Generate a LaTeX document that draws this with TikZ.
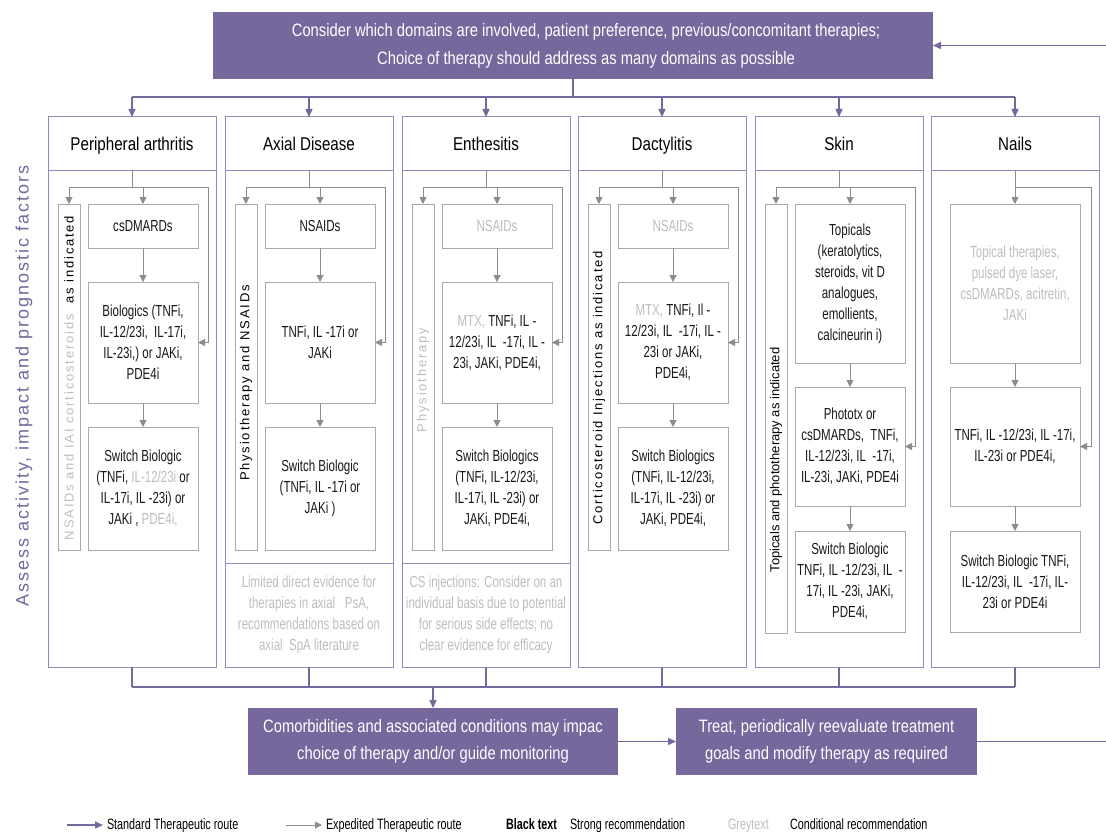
\documentclass[tikz,border=0pt]{standalone}
\usepackage{fontspec}
\setmainfont[FakeStretch=0.72]{Liberation Sans}
\newfontfamily\hfont[FakeStretch=0.82]{Liberation Sans}
\newfontfamily\spA[LetterSpace=14]{Liberation Sans}
\newfontfamily\spB[LetterSpace=11]{Liberation Sans}
\newfontfamily\spC{Liberation Sans}
\usetikzlibrary{arrows.meta}
\definecolor{purp}{RGB}{118,103,157}
\definecolor{colline}{RGB}{150,136,190}
\definecolor{gline}{RGB}{170,170,170}
\definecolor{gtext}{RGB}{190,190,190}
\definecolor{garrc}{RGB}{140,140,140}
\newcommand\gr[1]{{\color{gtext}#1}}
\newcommand\colconn[5]{%
  \coordinate (#1T) at (#2,187);
  \coordinate (#1SL) at (#3,187);
  \coordinate (#1BX) at (#4,187);
  \coordinate (#1R) at (#5,187);
  \draw[gconn] (#1h.south) -- (#1T);
  \draw[gconn] (#1SL) -- (#1R);
  \draw[garr] (#1SL) -- (#1s.north);
  \draw[garr] (#1BX) -- (#1b1.north);
  \draw[garr] (#1R) |- (#1b2.east);
  \draw[garr] (#1b1.south) -- (#1b2.north);
  \draw[garr] (#1b2.south) -- (#1b3.north);
}
\tikzset{
 every node/.style={inner sep=0pt, outer sep=0pt},
 colhead/.style={draw=colline, line width=1pt, minimum width=168pt, minimum height=54pt, text height=15.5pt, text depth=2pt, font=\hfont\fontsize{18.5}{22}\selectfont},
 colbody/.style={draw=colline, line width=1pt, minimum width=168pt, minimum height=496pt},
 tbox/.style={draw=gline, line width=0.9pt, align=center, minimum width=110pt, font=\fontsize{16}{21}\selectfont, text=black!90},
 sbar/.style={draw=gline, line width=0.9pt, minimum width=22pt},
 stxt/.style={rotate=90, font=\spA\fontsize{13}{15}\selectfont},
 gconn/.style={draw=garrc, line width=1pt},
 garr/.style={gconn, -{Triangle[width=7pt,length=7pt]}},
 pconn/.style={draw=purp, line width=1.3pt},
 parr/.style={pconn, -{Triangle[width=7pt,length=8pt]}},
 banner/.style={fill=purp, text=white, align=center, font=\hfont\fontsize{18}{28}\selectfont},
 notebox/.style={draw=colline, line width=1pt, minimum width=168pt, minimum height=104pt, align=center, text=gtext, font=\fontsize{16}{21}\selectfont},
 legtxt/.style={anchor=west, text height=11pt, text depth=3pt, font=\fontsize{15}{17}\selectfont},
}
\begin{document}
\begin{tikzpicture}[x=1pt,y=-1pt]
\useasboundingbox (0,0) rectangle (1106,832);
\fill[white] (0,0) rectangle (1106,832);

% top banner
\node[banner, minimum width=720pt, minimum height=67pt] (top) at (573,45.5) {};
\node[banner, fill=none] (toptxt) at (586,46) {Consider which domains are involved, patient preference, previous/concomitant therapies;\\Choice of therapy should address as many domains as possible};

% left label
\node[rotate=90, text=purp, font=\spB\fontsize{18}{20}\selectfont] (lbl) at (24,386) {Assess activity, impact and prognostic factors};

% ---------- column 1
\node[colhead] (c1h) at (132,144) {Peripheral arthritis};
\node[colbody] (c1b) at (132,419) {};
\node[sbar, minimum height=346pt] (c1s) at (69,377) {};
\node[stxt] (c1st) at (69,378) {\gr{NSAIDs and IAI corticosteroids}~~as indicated};
\node[tbox, minimum height=44pt] (c1b1) at (143,226) {csDMARDs};
\node[tbox, minimum height=121pt] (c1b2) at (143,342.5) {Biologics (TNFi,\\IL-12/23i,~~IL-17i,\\IL-23i,) or JAKi,\\PDE4i};
\node[tbox, minimum height=123pt] (c1b3) at (143,488.5) {Switch Biologic\\(TNFi, \gr{IL-12/23i} or\\IL-17i, IL -23i) or\\JAKi , \gr{PDE4i,}};
\colconn{c1}{132}{69}{143}{208}

% ---------- column 2
\node[colhead] (c2h) at (309,144) {Axial Disease};
\node[colbody] (c2b) at (309,419) {};
\node[notebox] (c2n) at (309,615) {Limited direct evidence for\\therapies in axial~~~PsA,\\recommendations based on\\axial~~SpA literature};
\node[sbar, minimum height=346pt] (c2s) at (246,377) {};
\node[stxt] (c2st) at (246,383) {Physiotherapy and NSAIDs};
\node[tbox, minimum height=44pt] (c2b1) at (320,226) {NSAIDs};
\node[tbox, minimum height=121pt] (c2b2) at (320,342.5) {TNFi, IL -17i or\\JAKi};
\node[tbox, minimum height=123pt] (c2b3) at (320,488.5) {Switch Biologic\\(TNFi, IL -17i or\\JAKi )};
\colconn{c2}{309}{246}{320}{385}

% ---------- column 3
\node[colhead] (c3h) at (486,144) {Enthesitis};
\node[colbody] (c3b) at (486,419) {};
\node[notebox] (c3n) at (486,615) {CS injections: Consider on an\\individual basis due to potential\\for serious side effects; no\\clear evidence for efficacy};
\node[sbar, minimum height=346pt] (c3s) at (423,377) {};
\node[stxt] (c3st) at (423,380) {\gr{Physiotherapy}};
\node[tbox, minimum height=44pt] (c3b1) at (497,226) {\gr{NSAIDs}};
\node[tbox, minimum height=121pt] (c3b2) at (497,342.5) {\gr{MTX,} TNFi, IL -\\12/23i, IL~~-17i, IL -\\23i, JAKi, PDE4i,};
\node[tbox, minimum height=123pt] (c3b3) at (497,488.5) {Switch Biologics\\(TNFi, IL-12/23i,\\IL-17i, IL -23i) or\\JAKi, PDE4i,};
\colconn{c3}{486}{423}{497}{562}

% ---------- column 4
\node[colhead] (c4h) at (662,144) {Dactylitis};
\node[colbody] (c4b) at (662,419) {};
\node[sbar, minimum height=346pt] (c4s) at (599,377) {};
\node[stxt] (c4st) at (599,388) {Corticosteroid Injections as indicated};
\node[tbox, minimum height=44pt] (c4b1) at (673,226) {\gr{NSAIDs}};
\node[tbox, minimum height=121pt] (c4b2) at (673,342.5) {\gr{MTX,} TNFi, Il -\\12/23i, IL~~-17i, IL -\\23i or JAKi,\\PDE4i,};
\node[tbox, minimum height=123pt] (c4b3) at (673,488.5) {Switch Biologics\\(TNFi, IL-12/23i,\\IL-17i, IL -23i) or\\JAKi, PDE4i,};
\colconn{c4}{662}{599}{673}{738}

% ---------- column 5
\node[colhead] (c5h) at (839,144) {Skin};
\node[colbody] (c5b) at (839,419) {};
\node[sbar, minimum height=429pt] (c5s) at (776,418.5) {};
\node[stxt, font=\spC\fontsize{13}{15}\selectfont] (c5st) at (776,460) {Topicals and phototherapy as indicated};
\node[tbox, minimum height=159pt] (c5b1) at (850,283.5) {Topicals\\(keratolytics,\\steroids, vit D\\analogues,\\emollients,\\calcineurin i)};
\node[tbox, minimum height=119pt] (c5b2) at (850,446.5) {Phototx or\\csDMARDs,~~TNFi,\\IL-12/23i, IL~~-17i,\\IL-23i, JAKi, PDE4i};
\node[tbox, minimum height=101pt] (c5b3) at (850,581.5) {Switch Biologic\\TNFi, IL -12/23i, IL~~-\\17i, IL -23i, JAKi,\\PDE4i,};
\colconn{c5}{839}{776}{850}{915}

% ---------- column 6
\node[colhead] (c6h) at (1015,144) {Nails};
\node[colbody] (c6b) at (1015,419) {};
\node[tbox, minimum width=130pt, minimum height=159pt] (c6b1) at (1015,283.5) {\gr{Topical therapies,}\\\gr{pulsed dye laser,}\\\gr{csDMARDs, acitretin,}\\\gr{JAKi}};
\node[tbox, minimum width=130pt, minimum height=119pt] (c6b2) at (1015,446.5) {TNFi, IL -12/23i, IL -17i,\\IL-23i or PDE4i,};
\node[tbox, minimum width=130pt, minimum height=101pt] (c6b3) at (1015,581.5) {Switch Biologic TNFi,\\IL-12/23i, IL~~-17i, IL-\\23i or PDE4i};
\coordinate (c6T) at (1015,187);
\coordinate (c6R) at (1091,187);
\draw[garr] (c6h.south) -- (c6b1.north);
\draw[gconn] (c6T) -- (c6R);
\draw[garr] (c6R) |- (c6b2.east);
\draw[garr] (c6b1.south) -- (c6b2.north);
\draw[garr] (c6b2.south) -- (c6b3.north);

% ---------- top tree
\coordinate (tj) at (573,97);
\draw[pconn] (top.south) -- (tj);
\coordinate (c1A) at (132,97);
\coordinate (c2A) at (309,97);
\coordinate (c3A) at (486,97);
\coordinate (c4A) at (662,97);
\coordinate (c5A) at (839,97);
\coordinate (c6A) at (1015,97);
\draw[pconn] (c1A) -- (c6A);
\foreach \i in {1,...,6} {\draw[parr] (c\i A) -- (c\i h.north);}

% ---------- bottom tree
\coordinate (c1Z) at (132,687);
\coordinate (c2Z) at (309,687);
\coordinate (c3Z) at (486,687);
\coordinate (c4Z) at (662,687);
\coordinate (c5Z) at (839,687);
\coordinate (c6Z) at (1015,687);
\foreach \i in {1,...,6} {\draw[pconn] (c\i b.south) -- (c\i Z);}
\draw[pconn] (c1Z) -- (c6Z);

\node[banner, minimum width=370pt, minimum height=67pt, font=\hfont\fontsize{18}{27}\selectfont] (como) at (433,741.5) {Comorbidities and associated conditions may impac\\choice of therapy and/or guide monitoring};
\node[banner, minimum width=301pt, minimum height=67pt, font=\hfont\fontsize{18}{27}\selectfont] (treat) at (826.5,741.5) {Treat, periodically reevaluate treatment\\goals and modify therapy as required};
\coordinate (bj) at (433,687);
\draw[parr] (bj) -- (como.north);
\draw[parr] (como.east) -- (treat.west);
\coordinate (loopB) at (1106,741.5);
\coordinate (loopT) at (1106,45.5);
\draw[pconn] (treat.east) -- (loopB);
\draw[parr] (loopT) -- (top.east);

% ---------- legend
\coordinate (lgA1) at (67,825);
\coordinate (lgA2) at (103,825);
\draw[parr] (lgA1) -- (lgA2);
\node[legtxt] (lgT1) at (107,825) {Standard Therapeutic route};
\coordinate (lgB1) at (286,825);
\coordinate (lgB2) at (322,825);
\draw[garr] (lgB1) -- (lgB2);
\node[legtxt] (lgT2) at (326,825) {Expedited Therapeutic route};
\node[legtxt] (lgT3) at (506,825) {\bfseries Black text};
\node[legtxt] (lgT4) at (570,825) {Strong recommendation};
\node[legtxt, text=gtext] (lgT5) at (728,825) {Greytext};
\node[legtxt] (lgT6) at (790,825) {Conditional recommendation};
\end{tikzpicture}
\end{document}
